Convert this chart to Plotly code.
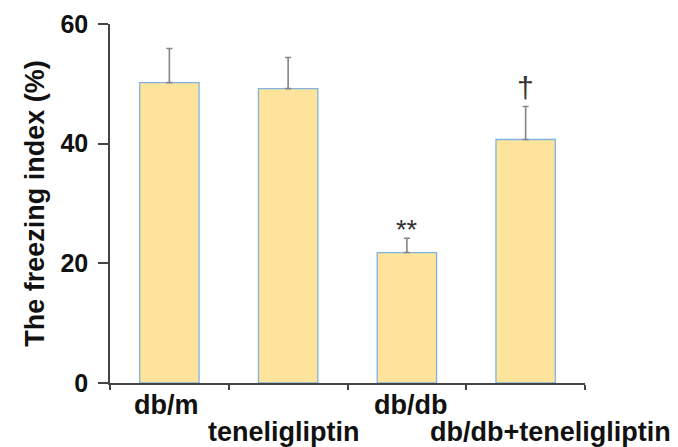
import plotly.graph_objects as go

categories = ["db/m", "teneligliptin", "db/db", "db/db+teneligliptin"]
means = [50.2, 49.2, 21.8, 40.7]
sem = [5.7, 5.2, 2.4, 5.5]
marks = ["", "", "**", "†"]
mark_y = [0, 0, 25.5, 49.4]
mark_size = [0, 0, 27, 30]
y_ticks = [0, 20, 40, 60]

FONT = "Liberation Sans"

fig = go.Figure()
fig.add_trace(go.Bar(
    x=categories, y=means, width=0.5,
    marker=dict(color="#FDE49A", line=dict(color="#7FB2E5", width=1.3)),
    error_y=dict(type="data", symmetric=False, array=sem,
                 arrayminus=[0] * len(sem), color="#858585",
                 thickness=1.6, width=3),
))

for c, m, yv, s in zip(categories, marks, mark_y, mark_size):
    if m:
        fig.add_annotation(x=c, y=yv, text=m, showarrow=False,
                           font=dict(family=FONT, size=s, color="#333"))

# staggered category labels
offsets = [(-3, 0), (-4, 1), (4, 0), (25, 1)]
for c, (dx, row) in zip(categories, offsets):
    fig.add_annotation(x=c, y=0, yref="y", text="<b>%s</b>" % c,
                       showarrow=False, xshift=dx,
                       yshift=-22 - 27 * row,
                       font=dict(family=FONT, size=27, color="#111"))

# page body has an 8px margin: figure is 8px smaller so the window shows it whole
fig.update_layout(
    width=670, height=439,
    margin=dict(l=102, r=93, t=16, b=64),
    plot_bgcolor="white", paper_bgcolor="white",
    showlegend=False,
    font=dict(family=FONT, color="#111"),
    xaxis=dict(
        type="category", range=[-0.5, 3.5], automargin=False,
        showticklabels=False, tickson="boundaries",
        ticks="outside", ticklen=5, tickcolor="#444", tickwidth=1.5,
        showline=True, linecolor="#444", linewidth=1.5,
        showgrid=False, zeroline=False,
    ),
    yaxis=dict(
        range=[0, 60], tickvals=y_ticks, automargin=False,
        ticktext=["<b>%d</b>" % v for v in y_ticks],
        ticks="outside", ticklen=10, tickcolor="#444", tickwidth=1.5,
        ticklabelstandoff=5,
        showline=True, linecolor="#444", linewidth=1.5,
        showgrid=False, zeroline=False,
        tickfont=dict(family=FONT, size=25, color="#111"),
        title=dict(text="<b>The freezing index (%)</b>", standoff=8,
                   font=dict(family=FONT, size=27, color="#111")),
    ),
)

fig.write_html("out.html")
